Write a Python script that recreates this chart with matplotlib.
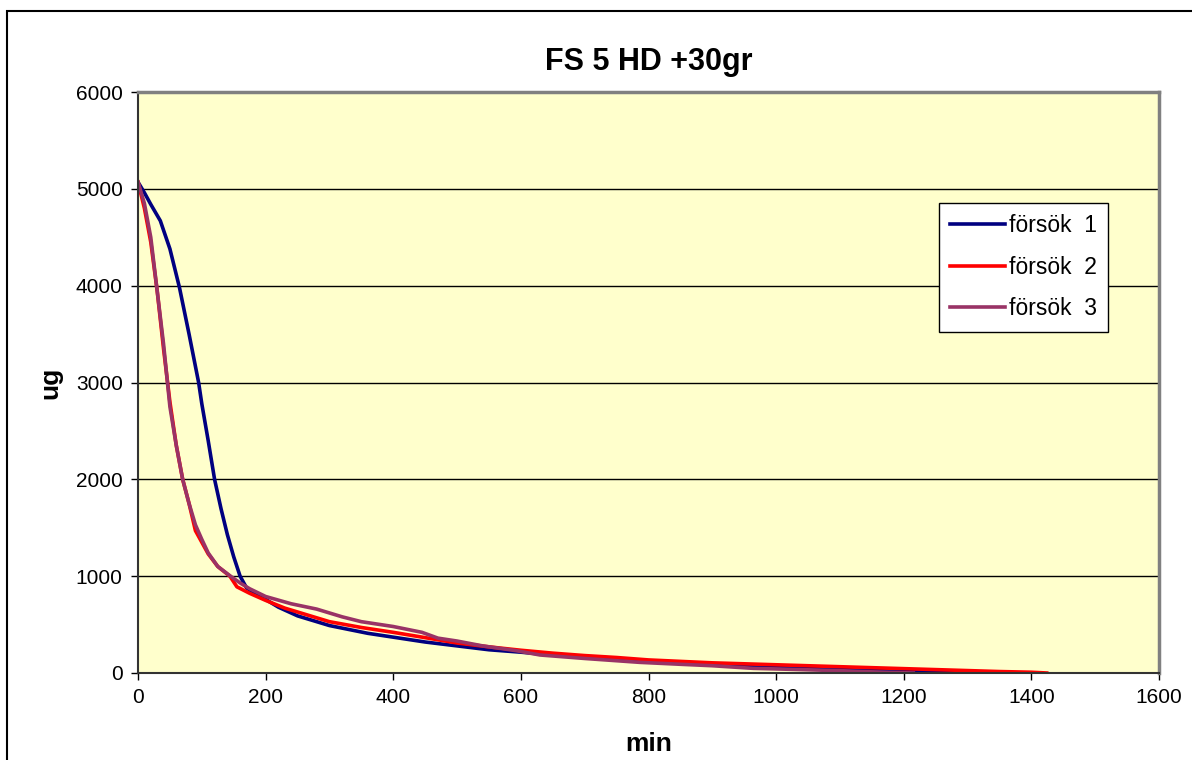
import matplotlib
matplotlib.use("Agg")
import matplotlib.pyplot as plt
from matplotlib.patches import Rectangle

plt.rcParams['font.family'] = ['Liberation Sans', 'DejaVu Sans']

# försök 1
t1 = [0, 10, 20, 35, 50, 65, 80, 95, 100, 110, 120, 130, 140, 150, 160, 170, 185, 200, 220, 250,
      280, 300, 330, 360, 400, 450, 500, 550, 600, 650, 700, 750, 800, 850, 900, 950, 1000, 1050,
      1100, 1150, 1200, 1250, 1300, 1380]
y1 = [5070, 4960, 4840, 4670, 4380, 3980, 3500, 3000, 2780, 2400, 2000, 1700, 1430, 1200, 1000, 880,
      810, 760, 680, 590, 530, 490, 450, 410, 370, 320, 280, 240, 215, 185, 165, 145, 125, 110, 95,
      80, 65, 55, 40, 30, 20, 10, 5, 0]

# försök 2
t2 = [0, 10, 20, 30, 40, 50, 60, 70, 80, 90, 100, 110, 125, 144, 155, 175, 200, 230, 260, 300,
      350, 400, 450, 500, 550, 600, 650, 700, 750, 800, 850, 900, 950, 1000, 1050, 1100, 1150,
      1200, 1250, 1300, 1350, 1400, 1424]
y2 = [5070, 4800, 4450, 3950, 3350, 2800, 2350, 2000, 1750, 1470, 1350, 1230, 1100, 1000, 890, 823,
      750, 670, 610, 530, 470, 420, 365, 310, 270, 235, 205, 180, 160, 135, 120, 105, 95, 85, 75,
      65, 55, 45, 35, 25, 15, 8, 0]

# försök 3
t3 = [0, 10, 20, 30, 40, 50, 60, 70, 80, 90, 100, 110, 125, 145, 160, 175, 200, 240, 280, 320,
      350, 400, 445, 470, 500, 540, 593, 630, 700, 786, 850, 900, 964, 1000, 1050, 1100, 1150, 1215]
y3 = [5070, 4850, 4500, 3950, 3400, 2750, 2350, 2000, 1750, 1530, 1380, 1240, 1100, 1000, 930, 870,
      790, 715, 660, 580, 530, 480, 420, 360, 330, 280, 230, 186, 150, 110, 90, 75, 48, 42, 33, 24,
      12, 0]

fig = plt.figure(figsize=(11.92, 7.6), dpi=100)
ax = fig.add_axes([138/1192, 1 - 673/760, (1159-138)/1192, (673-92)/760])
ax.set_facecolor('#FFFFCC')

ax.plot(t1, y1, color='#000080', lw=2.6, label='försök  1')
ax.plot(t2, y2, color='#FF0000', lw=2.6, label='försök  2')
ax.plot(t3, y3, color='#993366', lw=2.6, label='försök  3')

ax.set_xlim(0, 1600)
ax.set_ylim(0, 6000)
ax.set_xticks(range(0, 1601, 200))
ax.set_yticks(range(0, 6001, 1000))
ax.yaxis.grid(True, color='black', lw=1)
ax.set_axisbelow(True)
ax.tick_params(labelsize=15, length=5, width=1, direction='out', pad=6)

for s in ['top', 'right']:
    ax.spines[s].set_color('#808080')
    ax.spines[s].set_linewidth(2.5)
for s in ['left', 'bottom']:
    ax.spines[s].set_color('#333333')
    ax.spines[s].set_linewidth(1.5)

ax.set_title('FS 5 HD +30gr', fontsize=22, fontweight='bold', pad=16)
ax.set_xlabel('min', fontsize=19, fontweight='bold', labelpad=18)
ax.set_ylabel('ug', fontsize=19, fontweight='bold', labelpad=10)

leg = ax.legend(loc='upper left', bbox_to_anchor=((939-138)/1021, (673-203)/581),
                borderaxespad=0, fontsize=16.5, frameon=True, fancybox=False, handlelength=2.4,
                borderpad=0.5, labelspacing=0.8, handletextpad=0.15)
leg.get_frame().set_edgecolor('black')
leg.get_frame().set_linewidth(1)
leg.get_frame().set_facecolor('white')
leg.get_frame().set_alpha(1)

fig.patches.append(Rectangle((7/1192, -0.1), 2, 1.1 - 11/760, transform=fig.transFigure,
                             fill=False, edgecolor='black', lw=1.5))

fig.savefig('out.png', dpi=100)
